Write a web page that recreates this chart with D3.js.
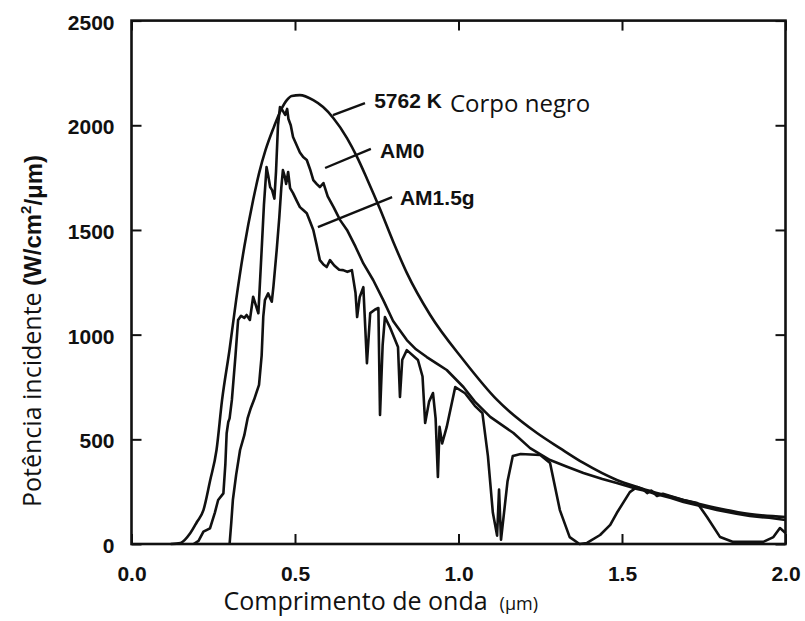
<!DOCTYPE html>
<html>
<head>
<meta charset="utf-8">
<script src="https://cdn.jsdelivr.net/npm/d3@7"></script>
<style>
body { margin: 0; background: #fff; }
</style>
</head>
<body>
<div id="spectrum"></div>
<script>
// values: wavelength (um) and power (W/cm2/um)
var blackBodyX = [0.12, 0.15, 0.18, 0.20, 0.22, 0.24, 0.26, 0.277, 0.30, 0.32, 0.345, 0.372, 0.39, 0.41, 0.435, 0.457, 0.475,
    0.49, 0.515, 0.556, 0.586, 0.617, 0.659, 0.69, 0.72, 0.76, 0.80, 0.842, 0.913, 1.015, 1.118, 1.24, 1.31, 1.382, 1.484,
    1.546, 1.688, 1.79, 1.891, 2.0];
var blackBodyY = [0, 5, 52, 105, 162, 300, 449, 688, 930, 1165, 1420, 1643, 1770, 1882, 1990, 2073, 2120,
    2140, 2144, 2120, 2087, 2035, 1939, 1848, 1745, 1600, 1445, 1295, 1095, 879, 688, 530, 458, 387, 306,
    272, 210, 172, 143, 129];

var am0X = [0.19, 0.205, 0.22, 0.24, 0.255, 0.265, 0.281, 0.287, 0.291, 0.296, 0.30, 0.307, 0.318, 0.326, 0.335, 0.345,
    0.352, 0.362, 0.372, 0.388, 0.398, 0.405, 0.413, 0.418, 0.424, 0.43, 0.437, 0.442, 0.448, 0.454, 0.46, 0.465, 0.47,
    0.476, 0.48, 0.487, 0.494, 0.515, 0.525, 0.536, 0.546, 0.556, 0.566, 0.576, 0.587, 0.60, 0.618, 0.638, 0.659, 0.685,
    0.709, 0.739, 0.77, 0.80, 0.842, 0.87, 0.903, 0.935, 0.964, 1.015, 1.05, 1.097, 1.168, 1.219, 1.28, 1.33, 1.382,
    1.44, 1.484, 1.546, 1.57, 1.60, 1.65, 1.688, 1.74, 1.79, 1.85, 1.891, 1.95, 2.0];
var am0Y = [0, 15, 59, 75, 150, 210, 242, 380, 529, 583, 600, 688, 900, 1070, 1090, 1080,
    1094, 1070, 1181, 1102, 1404, 1620, 1800, 1760, 1705, 1690, 1650, 1780, 2000, 2087, 2075, 2063, 2050,
    2078, 2030, 2000, 1944, 1870, 1848, 1834, 1790, 1738, 1720, 1705, 1724, 1660, 1609, 1547, 1500, 1420,
    1340, 1261, 1165, 1065, 974, 930, 893, 860, 831, 750, 680, 607, 530, 458, 401, 370, 339,
    310, 291, 263, 255, 240, 220, 201, 182, 162, 145, 134, 125, 115];

var am15gX = [0.30, 0.305, 0.31, 0.32, 0.332, 0.345, 0.355, 0.365, 0.375, 0.39, 0.398, 0.403, 0.408, 0.418, 0.425, 0.429,
    0.434, 0.444, 0.452, 0.458, 0.463, 0.468, 0.473, 0.479, 0.485, 0.494, 0.505, 0.515, 0.525, 0.536, 0.546, 0.556,
    0.566, 0.576, 0.587, 0.597, 0.607, 0.62, 0.635, 0.647, 0.66, 0.674, 0.685, 0.69, 0.698, 0.709, 0.72, 0.73, 0.745,
    0.755, 0.76, 0.768, 0.775, 0.79, 0.815, 0.821, 0.828, 0.842, 0.876, 0.89, 0.898, 0.91, 0.922, 0.93, 0.937, 0.942,
    0.95, 0.964, 0.99, 1.02, 1.05, 1.073, 1.09, 1.105, 1.118, 1.124, 1.13, 1.15, 1.166, 1.19, 1.25, 1.28, 1.31, 1.34,
    1.37, 1.393, 1.433, 1.464, 1.484, 1.524, 1.546, 1.565, 1.577, 1.59, 1.607, 1.625, 1.688, 1.73, 1.76, 1.80, 1.84,
    1.932, 1.963, 1.983, 2.0];
var am15gY = [0, 100, 210, 330, 449, 520, 600, 650, 690, 760, 900, 1086, 1165, 1197, 1170, 1157,
    1229, 1404, 1560, 1700, 1786, 1760, 1720, 1777, 1700, 1676, 1640, 1609, 1595, 1580, 1540, 1500,
    1430, 1356, 1335, 1323, 1356, 1330, 1310, 1308, 1300, 1308, 1200, 1084, 1180, 1227, 864, 1103, 1120,
    1127, 616, 950, 1084, 1036, 941, 702, 880, 926, 879, 800, 578, 680, 721, 600, 320, 560,
    480, 559, 750, 720, 660, 626, 420, 150, 40, 260, 20, 300, 420, 430, 425, 387, 162, 33,
    0, 5, 43, 91, 148, 248, 272, 260, 243, 255, 229, 240, 210, 196, 129, 33, 10,
    10, 33, 76, 53];

var xTicks = [0, 0.5, 1.0, 1.5, 2.0];
var yTicks = [0, 500, 1000, 1500, 2000, 2500];

drawSpectrum();

function drawSpectrum() {
    var margin = {
        top: 20.6,
        right: 19.5,
        bottom: 77,
        left: 131.5
    };
    var width = 805 - margin.left - margin.right;
    var height = 621 - margin.top - margin.bottom;

    var svg = d3.select("#spectrum").append("svg")
        .attr("width", 805)
        .attr("height", 621)
        .append("g")
        .attr("transform", "translate(" + margin.left + "," + margin.top + ")");

    var x = d3.scaleLinear().domain([0, 2]).range([0, width]);
    var y = d3.scaleLinear().domain([0, 2500]).range([height, 0]);

    var tickFont = "'Liberation Sans', Arial, sans-serif";

    // inward ticks on all four sides
    var bottom = svg.append("g")
        .attr("transform", "translate(0," + height + ")")
        .call(d3.axisBottom(x).tickValues(xTicks).tickSize(-10).tickPadding(22).tickFormat(d3.format(".1f")));
    var left = svg.append("g")
        .call(d3.axisLeft(y).tickValues(yTicks).tickSize(-10).tickPadding(17).tickFormat(d3.format("d")));
    svg.append("g")
        .call(d3.axisTop(x).tickValues(xTicks).tickSize(-10).tickFormat(""));
    svg.append("g")
        .attr("transform", "translate(" + width + ",0)")
        .call(d3.axisRight(y).tickValues(yTicks).tickSize(-10).tickFormat(""));

    svg.selectAll(".domain").remove();
    svg.selectAll(".tick line")
        .attr("stroke", "#111")
        .attr("stroke-width", 2);
    svg.selectAll(".tick text")
        .attr("font-family", tickFont)
        .attr("font-size", "21px")
        .attr("font-weight", "bold")
        .attr("fill", "#111");
    left.selectAll(".tick text").attr("dy", "0.4em");

    // frame
    svg.append("rect")
        .attr("x", x(0))
        .attr("y", y(2500))
        .attr("width", x(2) - x(0))
        .attr("height", y(0) - y(2500))
        .attr("fill", "none")
        .attr("stroke", "#111")
        .attr("stroke-width", 2.6);

    var line = d3.line()
        .x(function (d) { return x(d[0]); })
        .y(function (d) { return y(d[1]); });
    var smoothLine = d3.line()
        .curve(d3.curveMonotoneX)
        .x(function (d) { return x(d[0]); })
        .y(function (d) { return y(d[1]); });

    var series = [
        { pts: d3.zip(blackBodyX, blackBodyY), gen: smoothLine },
        { pts: d3.zip(am0X, am0Y), gen: line },
        { pts: d3.zip(am15gX, am15gY), gen: line }
    ];

    svg.selectAll(".curve")
        .data(series)
        .enter().append("path")
        .attr("class", "curve")
        .attr("d", function (d) { return d.gen(d.pts); })
        .attr("fill", "none")
        .attr("stroke", "#111")
        .attr("stroke-width", 2.6)
        .attr("stroke-linejoin", "round");

    // leader lines and curve labels (data units)
    var leaders = [
        [0.616, 2049, 0.714, 2106],
        [0.592, 1796, 0.732, 1887],
        [0.570, 1514, 0.797, 1657]
    ];
    svg.selectAll(".leader")
        .data(leaders)
        .enter().append("line")
        .attr("class", "leader")
        .attr("x1", function (d) { return x(d[0]); })
        .attr("y1", function (d) { return y(d[1]); })
        .attr("x2", function (d) { return x(d[2]); })
        .attr("y2", function (d) { return y(d[3]); })
        .attr("stroke", "#111")
        .attr("stroke-width", 2.4);

    var labels = [
        { t: "5762 K", lx: 0.742, ly: 2083, f: tickFont, s: 21, w: "bold" },
        { t: "Corpo negro", lx: 0.974, ly: 2065, f: "'Open Sans', sans-serif", s: 24, w: "normal" },
        { t: "AM0", lx: 0.760, ly: 1844, f: tickFont, s: 21, w: "bold" },
        { t: "AM1.5g", lx: 0.821, ly: 1619, f: tickFont, s: 21, w: "bold" }
    ];
    svg.selectAll(".lbl")
        .data(labels)
        .enter().append("text")
        .attr("class", "lbl")
        .attr("x", function (d) { return x(d.lx); })
        .attr("y", function (d) { return y(d.ly); })
        .attr("font-family", function (d) { return d.f; })
        .attr("font-size", function (d) { return d.s + "px"; })
        .attr("font-weight", function (d) { return d.w; })
        .attr("fill", "#111")
        .text(function (d) { return d.t; });

    // axis titles
    var xTitle = svg.append("text")
        .attr("x", 92)
        .attr("y", height + 66)
        .attr("font-family", "'Open Sans', sans-serif")
        .attr("font-size", "25px")
        .attr("fill", "#111");
    xTitle.append("tspan").text("Comprimento de onda");
    xTitle.append("tspan").attr("dx", "12").attr("font-size", "18px").text("(μm)");

    var yTitle = svg.append("text")
        .attr("transform", "translate(" + (41 - margin.left) + "," + (507 - margin.top) + ") rotate(-90)")
        .attr("font-family", "'Open Sans', sans-serif")
        .attr("font-size", "25px")
        .attr("fill", "#111");
    yTitle.append("tspan").text("Potência incidente ");
    var unit = yTitle.append("tspan")
        .attr("font-family", tickFont)
        .attr("font-size", "24px")
        .attr("font-weight", "bold");
    unit.append("tspan").text("(W/cm");
    unit.append("tspan").attr("font-size", "15px").attr("dy", "-0.65em").text("2");
    unit.append("tspan").attr("dy", "0.43em").text("/μm)");
}
</script>
</body>
</html>
